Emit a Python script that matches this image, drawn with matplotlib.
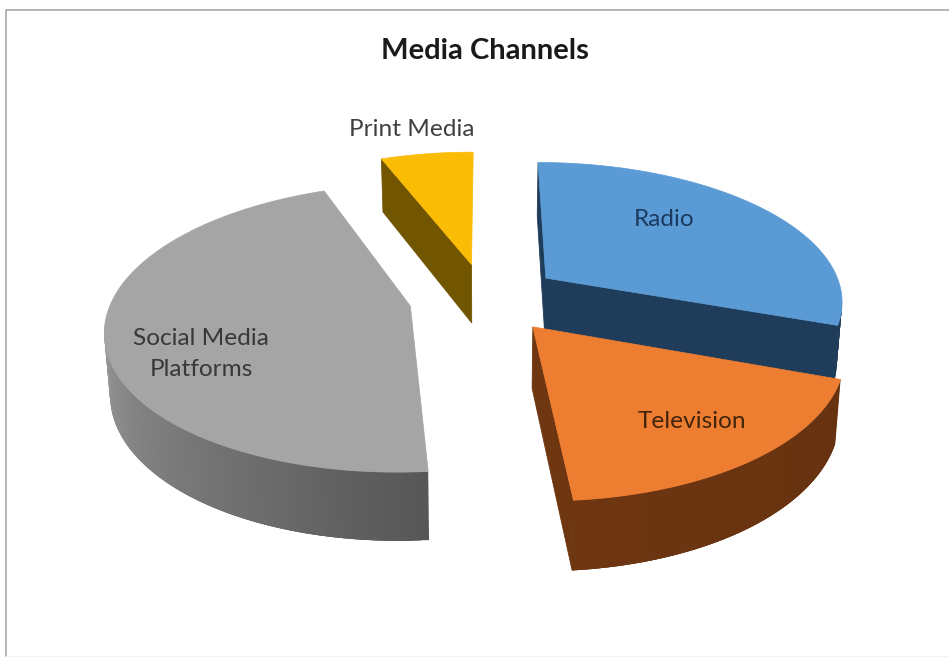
import numpy as np
import matplotlib
matplotlib.use("Agg")
import matplotlib.pyplot as plt
from matplotlib.collections import PolyCollection
from matplotlib.colors import to_rgb
from matplotlib.patches import Polygon


categories = ["Radio", "Television", "Social Media\nPlatforms", "Print Media"]
shares = [30.5, 18.1, 45.5, 5.9]

top_colors = ["#5B9BD5", "#ED7D31", "#A5A5A5", "#FBBC05"]
wall_left = ["#1F3D5A", "#6E3611", "#979797", "#725500"]
wall_right = ["#1F3D5A", "#663210", "#575757", "#725500"]
side_colors = ["#1F3D5A", "#6E3611", "#5A5A5A", "#725500"]
text_colors = ["#1B3A60", "#43240C", "#383838", "#404040"]
label_xy = [(664, 219), (692, 421), (201, 354), (412, 129)]

# pie geometry, pixels on the 950x658 canvas
CX, CY = 485, 298
RX, RY = 298, 138.5
HEIGHT = 60
PERSP = 0.15
SQUEEZE = 0.015
EXPLODE = 0.255


def project(x, y, z=0.0):
    s = 1 / (1 + PERSP * y)
    shrink = 1 - SQUEEZE * z
    return CX + RX * x * s * shrink, CY - RY * y * s * shrink + HEIGHT * z * s


def draw_slice(ax, t0, t1, top, left, right, side, order):
    mid = np.radians((t0 + t1) / 2)
    ox, oy = EXPLODE * np.sin(mid), EXPLODE * np.cos(mid)
    t = np.radians(np.linspace(t0, t1, 120))
    xs, ys = ox + np.sin(t), oy + np.cos(t)

    # curved outer wall, only the part turned towards the viewer
    quads, cols = [], []
    c_l, c_r = np.array(to_rgb(left)), np.array(to_rgb(right))
    front = np.where(np.cos(t) < -0.15)[0]
    for i in front[:-1]:
        # each strip runs under the next one so no seams show
        j = min(i + 3, len(t) - 1)
        quads.append([project(xs[i], ys[i]), project(xs[j], ys[j]),
                      project(xs[j], ys[j], 1), project(xs[i], ys[i], 1)])
        f = (t[i] - t[front[0]]) / max(t[front[-1]] - t[front[0]], 1e-6)
        # t runs clockwise, so on the front it goes right to left
        cols.append(c_r * (1 - f) + c_l * f)
    if quads:
        ax.add_collection(PolyCollection(quads, facecolors=cols, edgecolors="none",
                                         linewidths=0, zorder=order))

    # flat cut faces
    for angle, visible in ((t0, np.sin(np.radians(t0)) < 1e-9), (t1, np.sin(np.radians(t1)) > 1e-9)):
        if not visible:
            continue
        ex = ox + np.sin(np.radians(angle))
        ey = oy + np.cos(np.radians(angle))
        wall = [project(ox, oy), project(ex, ey), project(ex, ey, 1), project(ox, oy, 1)]
        ax.add_patch(Polygon(wall, closed=True, facecolor=side, edgecolor=side,
                             linewidth=0.6, zorder=order + 0.1))

    rim = [project(ox, oy)] + [project(a, b) for a, b in zip(xs, ys)]
    ax.add_patch(Polygon(rim, closed=True, facecolor=top, edgecolor=top,
                         linewidth=0.5, zorder=order + 0.2))


fig = plt.figure(figsize=(9.5, 6.58), dpi=100)
ax = fig.add_axes([0, 0, 1, 1])
ax.set_xlim(0, 950)
ax.set_ylim(658, 0)
ax.axis("off")

# chart area frame, only top and left show up
ax.plot([5.5, 5.5, 948], [656, 9.5, 9.5], color="#B4B4B4", lw=1.4, zorder=1)
ax.plot([5.5, 948], [655.5, 655.5], color="#F2F2F2", lw=1, zorder=1)

edges = np.concatenate([[0], np.cumsum(shares)]) / np.sum(shares) * 360
draw_order = [3, 2, 0, 1]
for rank, i in enumerate(draw_order):
    draw_slice(ax, edges[i], edges[i + 1], top_colors[i], wall_left[i], wall_right[i],
               side_colors[i], 2 + rank)

for name, (x, y), col in zip(categories, label_xy, text_colors):
    ax.text(x, y, name, ha="center", va="center", fontsize=17.6, family="Lato",
            color=col, zorder=10, linespacing=1.6)

ax.text(485, 51, "Media Channels", ha="center", va="center", fontsize=21,
        family="Lato", fontweight="bold", color="#1A1A1A", zorder=10)

fig.savefig("out.png", dpi=100)
plt.close(fig)
